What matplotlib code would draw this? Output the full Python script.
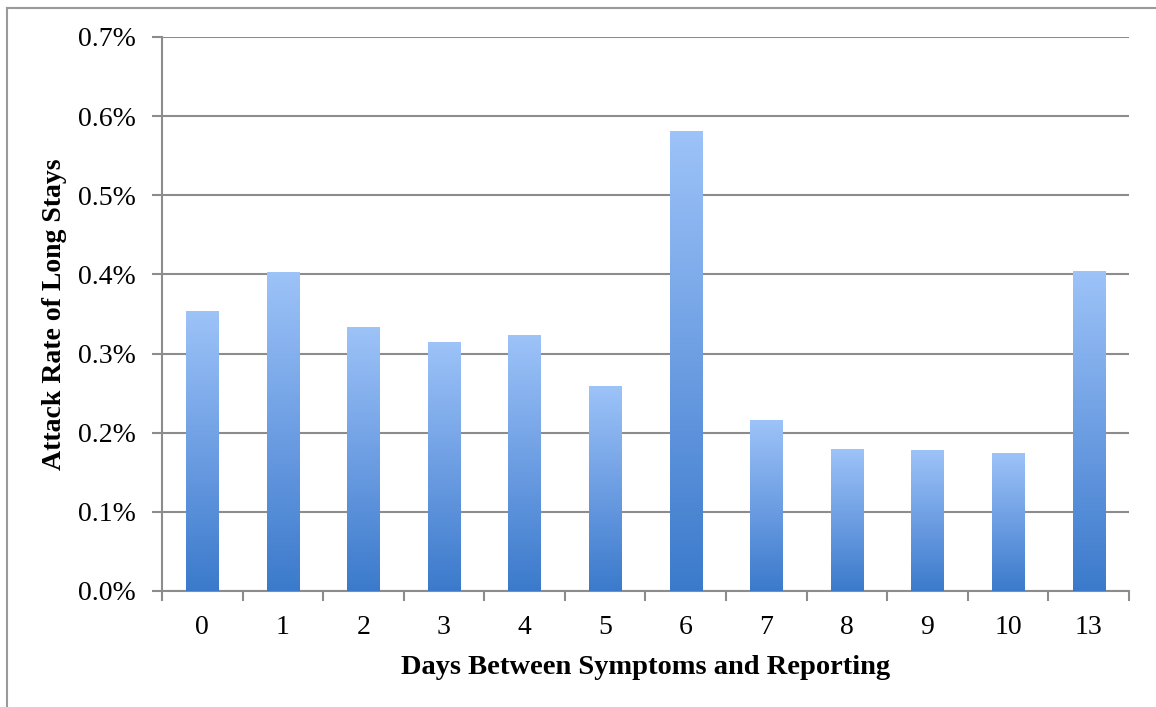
import numpy as np
import matplotlib
matplotlib.use("Agg")
import matplotlib.pyplot as plt
from matplotlib.colors import LinearSegmentedColormap
from matplotlib.ticker import FuncFormatter, MultipleLocator, FixedLocator

# attack rate (%) of long stays by reporting delay
days = ["0", "1", "2", "3", "4", "5", "6", "7", "8", "9", "10", "13"]
attack_rate = [0.353, 0.402, 0.333, 0.314, 0.323, 0.258, 0.581,
               0.215, 0.179, 0.177, 0.174, 0.404]

GRID = "#8c8c8c"
SERIF = ["Liberation Serif", "DejaVu Serif"]

bar_cmap = LinearSegmentedColormap.from_list("bar", ["#3b7acb", "#6d9ee3", "#9dc3f8"])

fig = plt.figure(figsize=(11.56, 7.07), dpi=100)
ax = fig.add_axes([0.1401, 0.1641, 0.8365, 0.7836])

x = np.arange(len(days))
bars = ax.bar(x, attack_rate, width=0.4, color="none", edgecolor="none", zorder=3)

# vertical gradient fill inside each bar
grad = np.linspace(0, 1, 256).reshape(-1, 1)
for b in bars:
    x0, y0 = b.get_x(), b.get_y()
    w, h = b.get_width(), b.get_height()
    ax.imshow(grad, cmap=bar_cmap, origin="lower", aspect="auto",
              extent=(x0, x0 + w, y0, y0 + h), zorder=3, interpolation="bilinear")

ax.set_xlim(-0.5, len(days) - 0.5)
ax.set_ylim(0, 0.7)

ax.yaxis.set_major_locator(MultipleLocator(0.1))
ax.yaxis.set_major_formatter(FuncFormatter(lambda v, p: f"{v:.1f}%"))
ax.grid(axis="y", color=GRID, linewidth=1.5, zorder=1)
ax.set_axisbelow(True)

ax.set_xticks(x)
ax.set_xticklabels(days)
ax.xaxis.set_minor_locator(FixedLocator(np.arange(-0.5, len(days), 1.0)))
ax.tick_params(axis="x", which="major", length=0, pad=17)
ax.tick_params(axis="x", which="minor", length=7, width=1.5, color=GRID, direction="out")
ax.tick_params(axis="y", length=7, width=1.5, color=GRID, direction="out", pad=12)

for lbl in ax.get_xticklabels() + ax.get_yticklabels():
    lbl.set_fontfamily(SERIF)
    lbl.set_fontsize(20)

for side in ["top", "right"]:
    ax.spines[side].set_visible(False)
for side in ["left", "bottom"]:
    ax.spines[side].set_color(GRID)
    ax.spines[side].set_linewidth(1.5)

ax.set_xlabel("Days Between Symptoms and Reporting", fontsize=20.5, fontweight="bold",
              family=SERIF, labelpad=11)
ax.set_ylabel("Attack Rate of Long Stays", fontsize=20, fontweight="bold",
              family=SERIF, labelpad=8)

# outer frame (left and top edges)
fig.add_artist(plt.Line2D([7 / 1156, 7 / 1156], [0, 1 - 8 / 707],
                          transform=fig.transFigure, color="#9a9a9a", linewidth=1.5))
fig.add_artist(plt.Line2D([7 / 1156, 1], [1 - 8 / 707, 1 - 8 / 707],
                          transform=fig.transFigure, color="#9a9a9a", linewidth=1.5))

fig.savefig("out.png", dpi=100, facecolor="white")
